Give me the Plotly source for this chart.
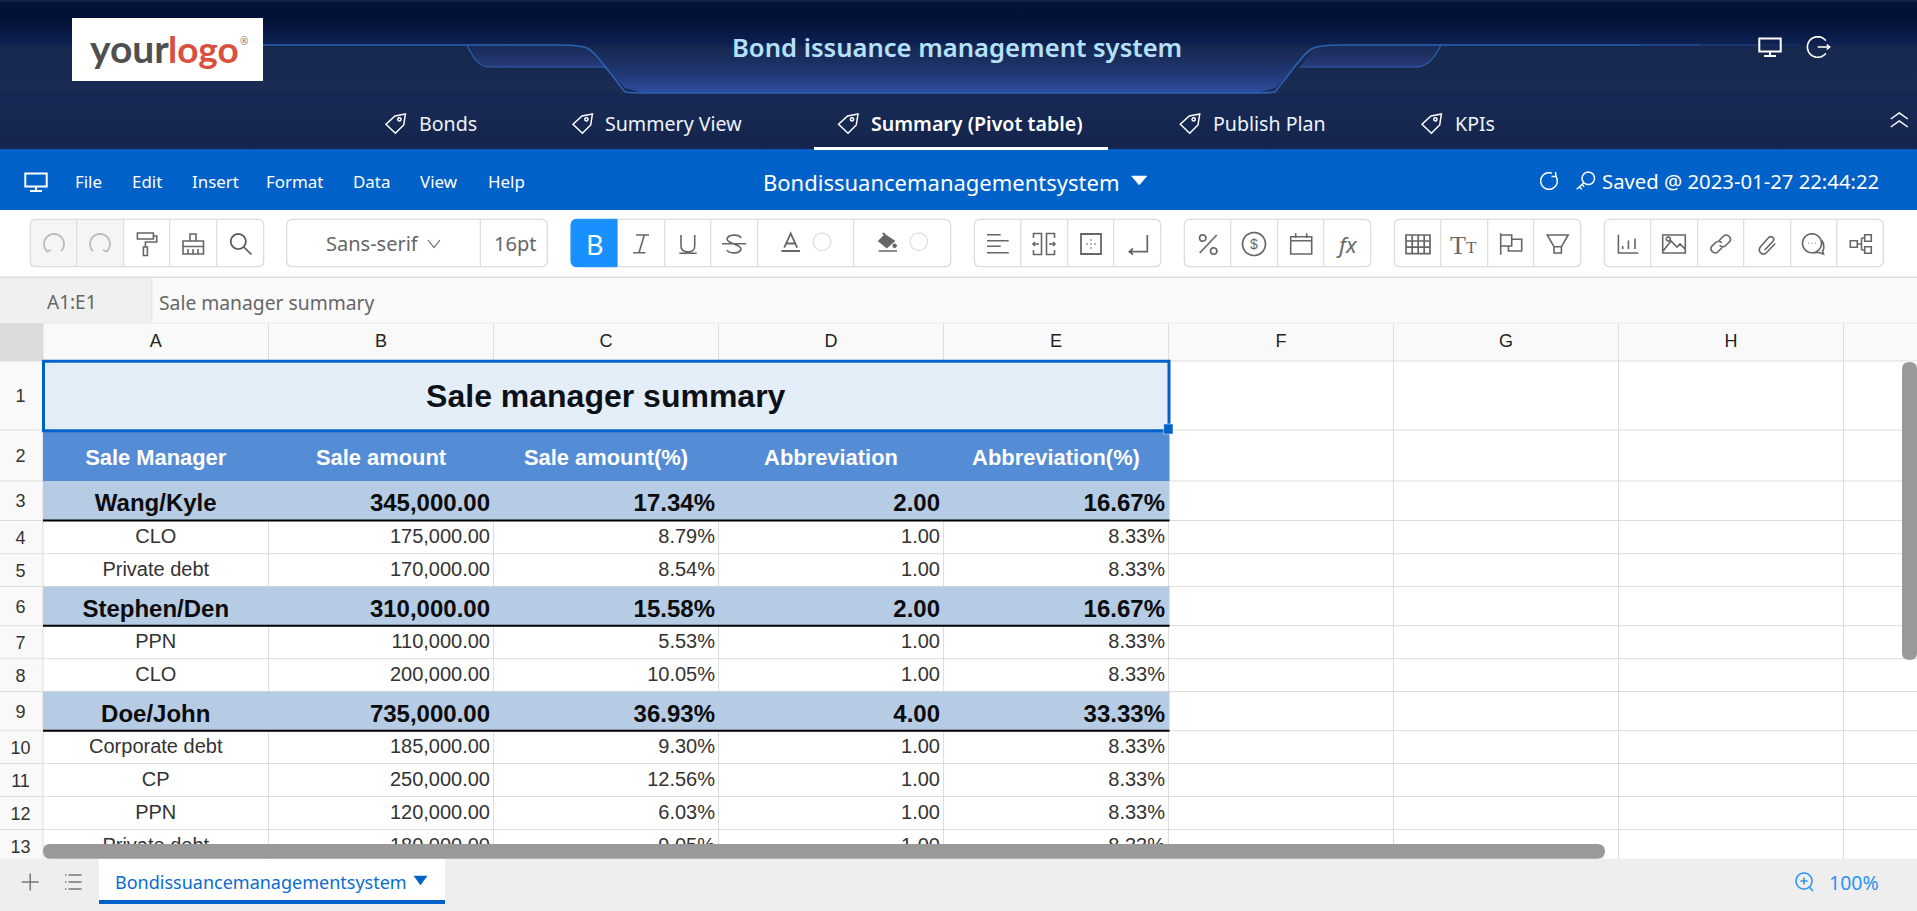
import re
import numpy as np
import plotly.graph_objects as go

# ── 1. SHEET DATA ─────────────────────────────────────────────────
SHEET_TITLE = "Sale manager summary"
COL_LETTERS = ["A", "B", "C", "D", "E", "F", "G", "H"]
COL_HEADERS = ["Sale Manager", "Sale amount", "Sale amount(%)", "Abbreviation", "Abbreviation(%)"]

ROW_LABELS = ["Wang/Kyle", "CLO", "Private debt", "Stephen/Den", "PPN", "CLO",
              "Doe/John", "Corporate debt", "CP", "PPN", "Private debt"]
IS_GROUP = [1, 0, 0, 1, 0, 0, 1, 0, 0, 0, 0]
SALE_AMOUNT = [345000, 175000, 170000, 310000, 110000, 200000,
               735000, 185000, 250000, 120000, 180000]
SALE_PCT = [17.34, 8.79, 8.54, 15.58, 5.53, 10.05, 36.93, 9.30, 12.56, 6.03, 9.05]
ABBREVIATION = [2, 1, 1, 2, 1, 1, 4, 1, 1, 1, 1]
ABBREVIATION_PCT = [16.67, 8.33, 8.33, 16.67, 8.33, 8.33, 33.33, 8.33, 8.33, 8.33, 8.33]

NAV_TABS = ["Bonds", "Summery View", "Summary (Pivot table)", "Publish Plan", "KPIs"]
MENU_ITEMS = ["File", "Edit", "Insert", "Format", "Data", "View", "Help"]

# ── 2. PAGE GEOMETRY ──────────────────────────────────────────────
W, H = 1917, 911
NAV_TEXT_X = [419, 605, 871, 1213, 1455]
NAV_ICON_X = [395.7, 582.7, 848.3, 1190, 1431.7]
MENU_X = [75, 132, 192, 266, 353, 420, 488]
COL_EDGES = [43, 268.5, 493.5, 718.5, 943.5, 1168.5, 1393.5, 1618.5, 1843.5]
ROW_EDGES = [361, 430, 481, 520.5, 553.7, 586.5, 625.7, 658.7, 691.5, 730.7, 763.5, 796.5, 829.5, 862.5]
TOOL_GROUPS = [
    (30.3, 263.7, [76.7, 123.7, 169.7, 216.7]),
    (286.7, 547.3, [480.3]),
    (571, 950.7, [617, 664.7, 710.7, 757.7, 853.7]),
    (974.3, 1160.7, [1020.7, 1067.7, 1113.7]),
    (1184.3, 1370.7, [1230.7, 1277.7, 1323.7]),
    (1394.3, 1580.7, [1440.7, 1487.7, 1533.7]),
    (1604.3, 1883.3, [1650.7, 1697.7, 1743.7, 1790.7, 1836.7]),
]

BLUE = "#0061c8"
ICON = "#666666"
GRID = "#dddddd"
SANS = "Noto Sans"
ARIAL = "Liberation Sans"

fig = go.Figure()
shapes_below = []
shapes_above = []
labels = []


# ── 3. HELPERS ────────────────────────────────────────────────────
def rect(x0, y0, x1, y1, fill, line=None, lw=1, above=False):
    s = dict(type="rect", x0=x0, y0=y0, x1=x1, y1=y1, fillcolor=fill,
             line=dict(color=line or "rgba(0,0,0,0)", width=lw if line else 0))
    (shapes_above if above else shapes_below).append(s)


def hline(x0, x1, y, color=GRID, lw=1):
    shapes_below.append(dict(type="line", x0=x0, x1=x1, y0=y, y1=y, line=dict(color=color, width=lw)))


def vline(x, y0, y1, color=GRID, lw=1):
    shapes_below.append(dict(type="line", x0=x, x1=x, y0=y0, y1=y1, line=dict(color=color, width=lw)))


def arc(r, a0, a1, cx=0, cy=0, n=28):
    # polyline arc, plotly path shapes don't take A segments in data coords
    ang = np.radians(np.linspace(a0, a1, n))
    pts = [f"{cx + r * np.cos(a):.2f} {cy + r * np.sin(a):.2f}" for a in ang]
    return "M " + " L ".join(pts)


def circle(r, cx=0, cy=0):
    return arc(r, 0, 360, cx, cy, 36) + " Z"


def icon(cx, cy, d, color=ICON, lw=1.6, fill=None):
    # d is written around (0,0), shift every x/y pair to the icon centre
    out, i = [], 0
    for tok in re.findall(r"[MLCQZ]|-?\d*\.?\d+", d):
        if tok in "MLCQZ":
            out.append(tok)
        else:
            out.append(f"{float(tok) + (cx if i % 2 == 0 else cy):.2f}")
            i += 1
    shapes_above.append(dict(type="path", path=" ".join(out), fillcolor=fill or "rgba(0,0,0,0)",
                             line=dict(color=color, width=lw)))


def label(x, y, text, size, color, anchor="left", weight="normal", family=SANS, style="normal"):
    labels.append(dict(x=x, y=y, xref="x", yref="y", text=text, showarrow=False, xanchor=anchor,
                       yanchor="middle", borderpad=0, borderwidth=0,
                       font=dict(size=size, color=color, family=family, weight=weight, style=style)))


def cell_text(x, ys, texts, pos, size, color, weight="normal"):
    fig.add_trace(go.Scatter(x=[x] * len(ys), y=ys, text=texts, mode="text", textposition=pos,
                             textfont=dict(size=size, color=color, family=ARIAL, weight=weight),
                             hoverinfo="skip", showlegend=False, cliponaxis=True))


# ── 4. DARK TOP BANNER ────────────────────────────────────────────
fig.add_trace(go.Scatter(
    x=[0, W, W, 0, 0], y=[0, 0, 149, 149, 0], mode="none", fill="toself", hoverinfo="skip", showlegend=False,
    fillgradient=dict(type="vertical", start=0, stop=149, colorscale=[
        [0, "#16264e"], [0.02, "#041238"], [0.12, "#031136"], [0.29, "#0d2050"], [0.32, "#17284f"],
        [0.62, "#1a2b54"], [0.635, "#162650"], [0.66, "#182a55"], [1, "#14244c"]]),
))
fig.add_trace(go.Scatter(
    x=[570, 586, 600, 625, 643, 1257, 1275, 1300, 1314, 1330], y=[45, 48, 62, 88, 93, 93, 88, 62, 48, 45],
    mode="none", fill="toself", hoverinfo="skip", showlegend=False,
    fillgradient=dict(type="vertical", start=45, stop=93, colorscale=[
        [0, "rgba(30,50,110,0)"], [0.45, "rgba(34,58,125,0.55)"], [1, "rgba(45,80,165,1)"]]),
))
for xs in ([467, 478, 490, 606, 584, 570], [1300, 1416, 1430, 1441, 1330, 1314]):
    fig.add_trace(go.Scatter(
        x=xs, y=[45, 62, 67, 67, 48, 45] if xs[0] == 467 else [67, 67, 62, 45, 45, 48],
        mode="none", fill="toself", hoverinfo="skip", showlegend=False,
        fillgradient=dict(type="vertical", start=45, stop=67, colorscale=[
            [0, "rgba(35,55,115,0.2)"], [1, "rgba(45,65,135,0.75)"]]),
    ))

LINE = "#2a62b4"
icon(0, 0, "M 263 45 L 560 45 C 590 45 590 48 604 65 L 625 92 Q 632 93 645 93 L 1255 93 "
           "Q 1268 93 1275 92 L 1296 65 C 1310 48 1310 45 1340 45 L 1640 45", LINE, 1.6)
icon(0, 0, "M 467 45 C 474 60 480 67 490 67 L 606 67", LINE, 1.2)
icon(0, 0, "M 1300 67 L 1416 67 C 1426 67 1434 60 1441 45", LINE, 1.2)
for x0, x1, alpha in [(1640, 1700, 0.7), (1700, 1760, 0.4), (1760, 1800, 0.2)]:
    icon(0, 0, f"M {x0} 45 L {x1} 45", f"rgba(42,98,180,{alpha})", 1.4)

# logo
rect(72, 18, 263, 81, "#ffffff", above=True)
label(90, 48, "your", 39, "#4f4f4f", weight=700, family="Lato")
label(168, 48, "logo", 37, "#d9503f", weight=700, family="Lato")
label(240, 41, "®", 10, "#777777")

label(957, 47, "Bond issuance management system", 25.6, "#b5e1ff", anchor="center", weight=600)

# nav tabs
TAG = "M 9.7 -9.3 L -0.7 -7.3 L -9.7 1 L -0.3 10 L 8 1.7 Z " + circle(1.6, 3.7, -4)
for i, tab in enumerate(NAV_TABS):
    active = i == 2
    label(NAV_TEXT_X[i], 123, tab, 19.6, "#ffffff" if active else "#eef3fb", weight=600 if active else "normal")
    icon(NAV_ICON_X[i], 123.3, TAG, "#ffffff", 1.5)
rect(814, 147, 1108, 150, "#ffffff", above=True)

MONITOR = "M -10.7 -8.5 L 10.7 -8.5 L 10.7 4.5 L -10.7 4.5 Z M 0 4.5 L 0 9 M -6 9 L 6 9"
icon(1770, 47, MONITOR, "#ffffff", 2)
icon(1817.7, 47, arc(10.3, 38, 322) + " M 0 0 L 12 0 M 9 -2.5 L 12 0 L 9 2.5", "#ffffff", 1.6)
icon(1899.3, 120, "M -8.5 -1 L 0 -7 L 8.5 -1 M -8.5 7 L 0 1 L 8.5 7", "#ffffff", 1.5)

# ── 5. BLUE MENU BAR ──────────────────────────────────────────────
rect(0, 149, W, 210, BLUE)
icon(36, 182, MONITOR, "#ffffff", 2)
for x, item in zip(MENU_X, MENU_ITEMS):
    label(x, 181, item, 16.9, "#ffffff")
label(763, 182, "Bondissuancemanagementsystem", 22, "#ffffff")
icon(0, 0, "M 1131.5 176 L 1147 176 L 1139.2 185 Z", "#ffffff", 0.5, "#ffffff")
icon(1549, 181, arc(8.3, -35, 290) + " M 6.5 -9 L 7 -4.5 L 2.5 -4.5", "#ffffff", 1.5)
icon(1588.3, 178.3, circle(6.2) + " M -4.4 4.4 L -11.6 11 M -9 8.5 L -6.5 11 M -6.5 6 L -4.2 8.5", "#ffffff", 1.5)
label(1602, 180.5, "Saved @ 2023-01-27 22:44:22", 20.3, "#ffffff")

# ── 6. TOOLBAR ────────────────────────────────────────────────────
rect(30.3, 219.3, 123.7, 266.7, "#f5f5f5")
for x0, x1, seps in TOOL_GROUPS:
    shapes_above.append(dict(type="path", line=dict(color="#dcdcdc", width=1.3), fillcolor="rgba(0,0,0,0)",
                             path=f"M {x0 + 6} 219.3 L {x1 - 6} 219.3 Q {x1} 219.3 {x1} 225.3 L {x1} 260.7 "
                                  f"Q {x1} 266.7 {x1 - 6} 266.7 L {x0 + 6} 266.7 Q {x0} 266.7 {x0} 260.7 "
                                  f"L {x0} 225.3 Q {x0} 219.3 {x0 + 6} 219.3 Z"))
    for s in seps:
        shapes_above.append(dict(type="line", x0=s, x1=s, y0=219.3, y1=266.7,
                                 line=dict(color="#dcdcdc", width=1.2)))
shapes_above.append(dict(type="path", fillcolor="#1890ff", line=dict(color="#1890ff", width=1),
                         path="M 617 219.3 L 577 219.3 Q 571 219.3 571 225.3 L 571 260.7 Q 571 266.7 577 266.7 L 617 266.7 Z"))
hline(0, W, 277.3, "#dedede", 1.5)

UNDO_GREY = "#bbbbbb"
icon(54, 244, arc(10, 130, 405) + " M -9.5 4 L -6.5 7.5 L -3 6", UNDO_GREY, 1.8)
icon(100, 244, arc(10, 135, 410) + " M 9.5 4 L 6.5 7.5 L 3 6", UNDO_GREY, 1.8)
icon(146.7, 244, "M -9.3 -11 L 6.7 -11 L 6.7 -5 L -9.3 -5 Z M 6.7 -8 L 10 -8 L 10 -2 L -1.3 -2 L -1.3 3 "
                 "M -3.3 3 L 0.7 3 L 0.7 11.5 L -3.3 11.5 Z")
icon(193, 244, "M -3 -3 L -3 -10 L 3 -10 L 3 -3 M -10 -3 L 10.5 -3 L 10.5 10 L -10 10 Z M -10 2.5 L 10.5 2.5 "
               "M -5 5 L -5 10 M 0 5 L 0 10 M 5 5 L 5 10")
icon(241, 244, circle(7.5, -2.7, -2.5) + " M 2.7 3 L 10.5 10.5", "#555555", 1.7)

label(326, 243, "Sans-serif", 20, "#666666")
icon(434, 244, "M -6 -4 L 0 3.5 L 6 -4", ICON, 1.2)
label(494, 243, "16pt", 20, "#666666")

label(595, 244, "B", 27, "#ffffff", anchor="center")
icon(641, 244, "M -5 -9 L 8 -9 M -7.7 8.7 L 4.3 8.7 M 3.3 -9 L -2 8.7")
icon(688, 244, "M -7 -9 L -7 2 C -7 7 -4 7.8 0 7.8 C 4 7.8 6.7 7 6.7 2 L 6.7 -9 M -8.7 9.3 L 8.7 9.3")
icon(734, 244, "M 7 -6 C 5 -10 -6 -10 -7 -5 C -7 0 7 0 7 5 C 6 10 -5 10 -7 6 M -12 -0.3 L 12 -0.3")
icon(790.7, 244, "M -6.5 3.7 L 0 -10.5 L 6.5 3.7 M -4 -0.5 L 4 -0.5 M -9.3 7 L 9.3 7", ICON, 1.8)
icon(887.7, 244, "M -8.7 -3 L -2.7 -9 L 6.3 -3 L -1 3.5 Z M -5 -11 L -2 -8.5 M -9 7 L 9.3 7", ICON, 1.7, ICON)
icon(887.7, 244, circle(1.9, 7, 1.8), ICON, 1, ICON)
icon(822, 241.7, circle(8.7), "#dddddd", 1.2, "#ffffff")
icon(918.7, 241.7, circle(8.7), "#dddddd", 1.2, "#ffffff")

ALIGN = "M -11 -9.3 L 2.7 -9.3 M -11 -3.3 L 10.7 -3.3 M -11 2.3 L 2.7 2.3 M -11 8.7 L 10.7 8.7"
icon(998, 244, ALIGN, ICON, 1.6)
icon(1044, 244, "M -10.5 -6 L -10.5 -10.5 L -2.5 -10.5 L -2.5 10.5 L -10.5 10.5 L -10.5 6 "
                "M 10.5 -6 L 10.5 -10.5 L 2.5 -10.5 L 2.5 10.5 L 10.5 10.5 L 10.5 6 "
                "M -10.5 0 L -5 0 M -9 -2 L -11 0 L -9 2 M 5 0 L 10.5 0 M 9 -2 L 11 0 L 9 2")
icon(1091, 244, "M -10 -10 L 10 -10 L 10 10 L -10 10 Z M 0 -4.5 L 0 -3.5 M 0 -0.5 L 0 0.5 M 0 3.5 L 0 4.5 "
                "M -4.5 0 L -3.5 0 M 3.5 0 L 4.5 0", ICON, 1.8)
icon(1138, 244, "M 9.3 -9 L 9.3 7.7 L -8.3 7.7 M -5 4.5 L -8.7 7.7 L -5 10.5", ICON, 1.7)
icon(1207.7, 244, "M 9 -9 L -8 9 " + circle(3.2, -5, -6) + " " + circle(3.2, 6, 7), ICON, 1.7)
icon(1254, 244, circle(11.5), ICON, 1.7)
label(1254, 244, "$", 14, "#666666", anchor="center", family=ARIAL)
icon(1301, 244, "M -10.3 -7.3 L 10.7 -7.3 L 10.7 10 L -10.3 10 Z M -10.3 -3.3 L 10.7 -3.3 M -5.3 -10.7 L -5.3 -6 M 5.7 -10.7 L 5.7 -6")
label(1347, 244, "fx", 22, "#666666", anchor="center", style="italic")
icon(1417.7, 244, "M -11.7 -9 L 12.3 -9 L 12.3 9.7 L -11.7 9.7 Z M -11.7 -3 L 12.3 -3 M -11.7 3.2 L 12.3 3.2 "
                  "M -5.5 -9 L -5.5 9.7 M 0.5 -9 L 0.5 9.7 M 6.5 -9 L 6.5 9.7", ICON, 1.7)
label(1458, 245, "T", 26, "#666666", anchor="center", family="Liberation Serif")
label(1471, 247, "T", 17, "#666666", anchor="center", family="Liberation Serif")
icon(1510.7, 244, "M -10 -10.7 L -10 10.7 M -10 -9 L 1 -9 L 1 2 L -10 2 M 1 -4.7 L 11 -4.7 L 11 7 L -2.3 7 L -2.3 2", ICON, 1.6)
icon(1557.7, 244, "M -10.5 -9 L 10.5 -9 L 3.7 2.7 L 3.7 9 L -3.7 9 L -3.7 2.7 Z M -3.7 2.7 L 3.7 2.7", ICON, 1.6)
icon(1627.7, 244, "M -9.3 -9.3 L -9.3 9 L 10.7 9 M -5 5 L -5 2 M 0.7 5 L 0.7 -3.5 M 7.3 5 L 7.3 -5.5", ICON, 1.6)
icon(1674, 244, "M -11.3 -9 L 11.3 -9 L 11.3 9 L -11.3 9 Z M -10.5 6.5 L -3 -3 L 3 3 L 6 0 L 11 5 "
     + circle(2, -5.7, -5), ICON, 1.6)
icon(1720.7, 244, "M -1.5 -3.5 L 3 -8 C 5.5 -10.5 11 -7.5 9.5 -3 L 5 1.5 C 3 3.5 0 3 -1 1 "
                  "M 1.5 3.5 L -3 8 C -5.5 10.5 -11 7.5 -9.5 3 L -5 -1.5 C -3 -3.5 0 -3 1 -1", ICON, 1.6)
icon(1766.7, 244, "M -2 6 L 6.5 -3 C 8.5 -5.5 4.5 -9 2 -6.5 L -6 2.5 C -10 7.5 -4 12.5 0 8.5 L 8.5 -0.5", ICON, 1.6)
icon(1813, 244, circle(9.5, -1, -0.7) + " M 8.5 -4 C 12 0 11 6 9.5 7 L 10.5 10 L 5 8.3 L 1 9", ICON, 1.6)
icon(1813, 244, "M -4.5 -0.7 L -3.9 -0.7 M -1.3 -0.7 L -0.7 -0.7 M 1.9 -0.7 L 2.5 -0.7", ICON, 1.6)
icon(1861, 244, "M -10.7 -3.3 L -3.7 -3.3 L -3.7 3.3 L -10.7 3.3 Z M 3.7 -9.3 L 10.3 -9.3 L 10.3 -2.7 L 3.7 -2.7 Z "
                "M 3.7 2.7 L 10.3 2.7 L 10.3 9.3 L 3.7 9.3 Z M -3.7 0 L 0.5 0 M 0.5 -6 L 0.5 6 M 0.5 -6 L 3.7 -6 M 0.5 6 L 3.7 6", ICON, 1.6)

# ── 7. FORMULA BAR AND SHEET HEADERS ──────────────────────────────
rect(0, 278, 151.8, 323, "#f0f0f0")
rect(151.8, 278, W, 323, "#fafafa")
vline(151.8, 278, 323)
label(47, 302, "A1:E1", 19, "#666666")
label(159, 302, SHEET_TITLE, 19.3, "#666666")
hline(0, W, 323.3)

rect(0, 323.5, 43, 361, "#dbdbdb")
rect(43, 323.5, W, 361, "#f9f9f9")
rect(0, 361, 43, 860, "#f9f9f9")
hline(0, W, 361)
for edge in COL_EDGES[1:]:
    vline(edge, 323.5, 860)
for edge in ROW_EDGES[1:]:
    hline(0, W, edge)
vline(43, 323.5, 860)

# letters and row numbers go through the same axes as the cells
letter_x = [(a + b) / 2 for a, b in zip(COL_EDGES[:-1], COL_EDGES[1:])]
fig.add_trace(go.Scatter(x=letter_x, y=[342.5] * len(letter_x), text=COL_LETTERS, mode="text",
                         textposition="middle center", showlegend=False, hoverinfo="skip",
                         textfont=dict(size=18, color="#222222", family=ARIAL)))
row_y = [(a + b) / 2 for a, b in zip(ROW_EDGES[:-1], ROW_EDGES[1:])]
# svg text sits a bit high against the row centre, so nudge it down
fig.add_trace(go.Scatter(x=[20.5] * len(row_y), y=[y + 2 for y in row_y],
                         text=[str(i + 1) for i in range(len(row_y))], mode="text",
                         textposition="middle center", showlegend=False, hoverinfo="skip",
                         textfont=dict(size=18, color="#333333", family=ARIAL)))

# ── 8. TABLE CELLS ────────────────────────────────────────────────
table_right = COL_EDGES[5]
rect(43, 361, table_right + 1, 431, "#e4eef8")
rect(43, 431, table_right + 1, 481, "#558cd6")

for i, grp in enumerate(IS_GROUP):
    top, bottom = ROW_EDGES[i + 2], ROW_EDGES[i + 3]
    if grp:
        rect(43, top, table_right + 1, bottom, "#b6cbe4")
        hline(43, table_right + 1, bottom, "#000000", 2)

fig.add_trace(go.Scatter(x=[(COL_EDGES[0] + COL_EDGES[5]) / 2], y=[398.5], text=[SHEET_TITLE], mode="text",
                         textposition="middle center", showlegend=False, hoverinfo="skip",
                         textfont=dict(size=32, color="#0c1118", family=ARIAL, weight="bold")))
fig.add_trace(go.Scatter(x=letter_x[:5], y=[460] * 5, text=COL_HEADERS, mode="text",
                         textposition="middle center", showlegend=False, hoverinfo="skip",
                         textfont=dict(size=21.9, color="#ffffff", family=ARIAL, weight="bold")))

row_mid = row_y[2:]
columns = [
    [f"{v:,.2f}" for v in SALE_AMOUNT],
    [f"{v:.2f}%" for v in SALE_PCT],
    [f"{v:.2f}" for v in ABBREVIATION],
    [f"{v:.2f}%" for v in ABBREVIATION_PCT],
]
for grp, size, color, weight, nudge in [(1, 24, "#0c0c0c", "bold", 4.5), (0, 20, "#333333", "normal", 1.2)]:
    idx = [i for i, g in enumerate(IS_GROUP) if g == grp]
    ys = [row_mid[i] + nudge for i in idx]
    cell_text(letter_x[0], ys, [ROW_LABELS[i] for i in idx], "middle center", size, color, weight)
    for c, col in enumerate(columns):
        cell_text(COL_EDGES[c + 2] - 3.5, ys, [col[i] for i in idx], "middle left", size, color, weight)

# selection box
shapes_above.append(dict(type="rect", x0=43.5, y0=361.3, x1=1169, y1=430.7,
                         line=dict(color=BLUE, width=3), fillcolor="rgba(0,0,0,0)"))
rect(1163.7, 424, 1173, 434, BLUE, "#ffffff", 0.5, above=True)

# ── 9. SCROLLBARS AND BOTTOM TAB BAR ──────────────────────────────
rect(0, 858.7, W, H, "#eeeeee", above=True)
rect(99, 858.7, 445, 900, "#ffffff", above=True)
rect(99, 900, 445, 904, BLUE, above=True)
for d in ["M 50 844 L 1597 844 Q 1605 844 1605 851.3 Q 1605 858.7 1597 858.7 L 50 858.7 Q 43 858.7 43 851.3 Q 43 844 50 844 Z",
          "M 1902 369 Q 1902 362 1909.5 362 Q 1917 362 1917 369 L 1917 653 Q 1917 660 1909.5 660 Q 1902 660 1902 653 Z"]:
    shapes_above.append(dict(type="path", path=d, fillcolor="#999999", line=dict(width=0)))

icon(30.2, 882, "M -8.5 0 L 8.5 0 M 0 -8.5 L 0 8.5", "#777777", 1.5)
icon(73.5, 882, "M -5 -7 L 8 -7 M -5 0 L 8 0 M -5 7 L 8 7 M -8.5 -7 L -7.3 -7 M -8.5 0 L -7.3 0 M -8.5 7 L -7.3 7", "#777777", 1.5)
label(114.7, 881.5, "Bondissuancemanagementsystem", 18, "#0a6ccf")
icon(0, 0, "M 414 876 L 427 876 L 420.5 885 Z", BLUE, 0.5, BLUE)
icon(1804, 881, circle(8) + " M -3.5 0 L 3.5 0 M 0 -3.5 L 0 3.5 M 5.5 6.2 L 9 10", "#2b92f0", 1.5)
label(1828.5, 882, "100%", 19.5, "#2b92f0")

# ── 10. LAYOUT AND OUTPUT ─────────────────────────────────────────
for s in shapes_below:
    s["layer"] = "below"
for s in shapes_above:
    s["layer"] = "above"

fig.update_layout(
    width=W, height=H, margin=dict(l=0, r=0, t=0, b=0), showlegend=False,
    plot_bgcolor="#ffffff", paper_bgcolor="#ffffff",
    xaxis=dict(range=[0, W], visible=False, fixedrange=True),
    yaxis=dict(range=[H, 0], visible=False, fixedrange=True),
    shapes=shapes_below + shapes_above, annotations=labels,
)
fig.write_html("out.html", config=dict(displayModeBar=False),
               post_script="document.body.style.margin='0';document.body.style.overflow='hidden';")
